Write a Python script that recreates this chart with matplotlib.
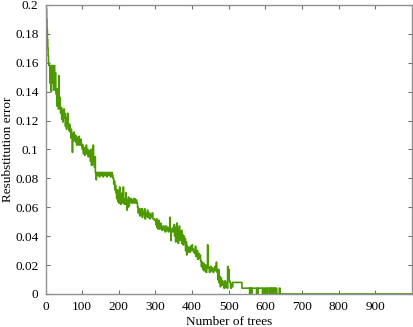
import matplotlib
matplotlib.use("Agg")
import matplotlib.pyplot as plt
import numpy as np

# resubstitution error (in 1/1000) as runs: value, how many trees in a row
run_errors = [
    200, 197, 190, 183, 176, 170, 165, 160,
    158, 146, 158, 140, 158, 146, 158, 141, 158, 147, 153, 140,
    138, 130, 142, 135, 128, 151, 130, 136, 128,
    125, 129, 121, 126, 119, 127,
    124, 128, 122,
    125, 116, 122, 114, 120, 125, 117,
    118, 113, 117,
    112, 108, 114, 109, 98, 111, 106, 112, 107, 110,
    105, 109, 103, 108, 104, 109, 103, 107, 104, 102,
    100, 103, 97, 101, 96, 100, 103, 97, 100, 95, 99, 96,
    92, 100, 89, 96, 90, 103, 91, 88, 95,
    84, 79, 84, 82, 84, 81, 84, 82, 84, 81, 84, 82, 84, 81, 84, 82, 84, 81, 84, 82,
    80, 76, 78, 72, 75, 70,
    66, 72, 64, 68, 63, 74, 65, 62, 68, 64, 70, 63, 74, 65, 62,
    66, 70, 62, 58, 65, 60, 67, 61, 64,
    66, 63, 65, 63, 66, 63, 65, 63,
    60, 56, 59, 54, 58, 55, 59, 53, 57, 55, 59, 52, 56, 54, 58, 53, 56, 52, 55, 53, 56,
    52, 51,
    48, 52, 46, 50, 45, 51, 47, 45, 49, 46, 44, 47,
    45, 43, 47, 44, 46, 43, 45, 53, 44, 37, 45, 43, 46, 44,
    48, 40, 46, 36, 44, 49, 38, 45, 35, 42, 47, 37, 41,
    39, 44, 35, 41, 34, 40, 36,
    38, 30, 36, 27, 33, 29,
    32, 29, 33, 30, 34, 31, 29,
    28, 33, 26, 30, 24, 28, 25, 27,
    23, 19, 22, 17, 21, 16, 20, 15, 18, 34, 19,
    18, 15, 19, 16, 18, 15, 17, 19, 16, 22, 17,
    15, 10, 17, 8, 12, 5, 11, 6, 9,
    7, 4, 9, 5, 8, 4,
    19, 11, 17, 9,
    8, 4, 7, 5,
    8,
    4,
    0, 4, 0, 4, 0,
    4,
    0, 4, 0,
    4,
    0, 4, 0, 4, 0, 4, 0,
    4,
    0, 4, 0, 4, 0, 4, 0, 4, 0, 4, 0,
    0,
    4,
    0,
]
run_lengths = [
    1, 1, 1, 1, 1, 1, 1, 1,
    3, 1, 2, 1, 2, 2, 2, 1, 2, 1, 2, 1,
    2, 1, 1, 2, 1, 1, 2, 1, 1,
    2, 1, 1, 2, 1, 1,
    1, 1, 2,
    1, 1, 2, 1, 2, 1, 1,
    2, 1, 2,
    2, 1, 1, 2, 1, 2, 1, 1, 2, 2,
    2, 1, 2, 2, 2, 1, 3, 2, 2, 1,
    2, 1, 2, 2, 1, 3, 1, 2, 2, 2, 2, 2,
    2, 1, 2, 1, 2, 1, 2, 2, 1,
    2, 1, 3, 2, 3, 1, 4, 2, 3, 1, 3, 2, 4, 1, 3, 2, 4, 2, 3, 2,
    2, 1, 2, 1, 2, 2,
    2, 1, 2, 1, 2, 1, 2, 1, 2, 1, 1, 2, 1, 2, 2,
    2, 1, 2, 1, 2, 1, 1, 2, 2,
    3, 2, 3, 2, 3, 3, 2, 2,
    2, 1, 3, 1, 2, 2, 2, 1, 3, 2, 1, 2, 2, 3, 1, 2, 3, 2, 2, 3, 2,
    4, 4,
    2, 1, 2, 1, 2, 1, 2, 2, 1, 3, 2, 3,
    3, 2, 2, 3, 2, 2, 2, 1, 2, 1, 2, 3, 2, 1,
    1, 1, 2, 1, 2, 1, 2, 1, 1, 2, 1, 1, 2,
    2, 1, 2, 1, 2, 2, 2,
    1, 1, 2, 1, 2, 2,
    3, 2, 3, 2, 1, 3, 3,
    2, 1, 3, 2, 2, 2, 2, 2,
    2, 2, 2, 2, 2, 2, 3, 2, 2, 1, 1,
    3, 2, 3, 2, 3, 2, 3, 2, 2, 1, 1,
    2, 2, 1, 2, 2, 1, 2, 2, 2,
    3, 2, 2, 3, 2, 1,
    1, 1, 2, 2,
    2, 2, 2, 2,
    25,
    21,
    1, 1, 2, 1, 1,
    13,
    2, 1, 1,
    12,
    2, 2, 3, 1, 2, 2, 2,
    5,
    2, 2, 1, 3, 2, 2, 1, 2, 2, 3, 2,
    5,
    2,
    361,
]

x_ticks = [0, 100, 200, 300, 400, 500, 600, 700, 800, 900]
y_ticks = [0, 0.02, 0.04, 0.06, 0.08, 0.1, 0.12, 0.14, 0.16, 0.18, 0.2]
y_tick_labels = ['0', '0.02', '0.04', '0.06', '0.08', '0.1', '0.12',
                 '0.14', '0.16', '0.18', '0.2']

err = np.repeat(np.array(run_errors) / 1000.0, run_lengths)
trees = np.arange(1, len(err) + 1)

plt.rcParams['font.family'] = ['Liberation Serif', 'DejaVu Serif']

fig = plt.figure(figsize=(4.14, 3.27), dpi=100)
ax = fig.add_axes([0.110, 0.101, 0.885, 0.884])

ax.plot(trees, err, color='#4c9900', lw=1.2, drawstyle='steps-post')

ax.set_xlim(0, 1000)
ax.set_ylim(0, 0.2)
ax.set_xticks(x_ticks)
ax.set_yticks(y_ticks)
ax.set_yticklabels(y_tick_labels)
ax.tick_params(direction='in', length=3, width=0.8, color='#707070',
               top=True, right=True, labelsize=9.5, pad=5)
for s in ax.spines.values():
    s.set_color('#909090')
    s.set_linewidth(1.0)

ax.set_xlabel('Number of trees', fontsize=9.5, labelpad=2)
ax.set_ylabel('Resubstitution error', fontsize=9.5, labelpad=1)

fig.savefig('out.png', dpi=100)
